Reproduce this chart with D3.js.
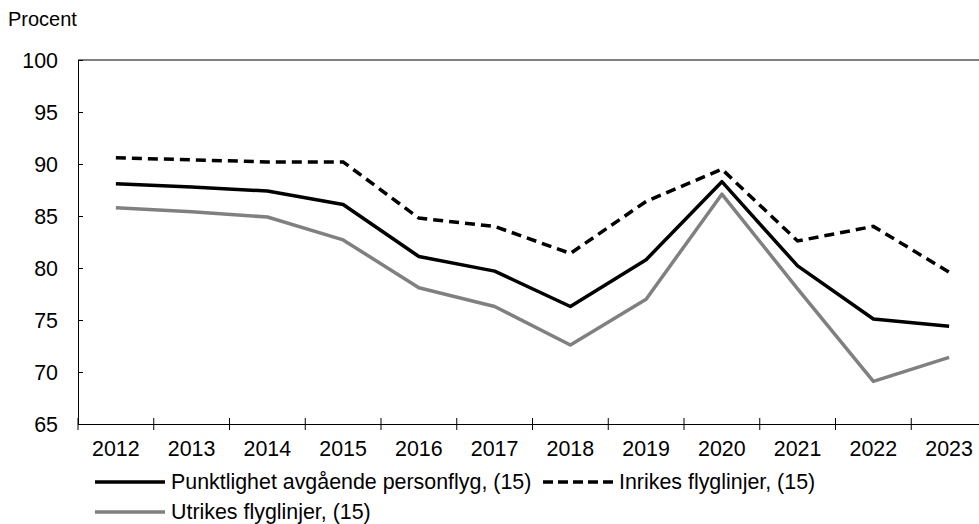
<!DOCTYPE html>
<html><head><meta charset="utf-8">
<script src="https://cdn.jsdelivr.net/npm/d3@7"></script>
<style>body{margin:0;background:#fff}text{font-family:"Liberation Sans",Arial,sans-serif;fill:#000}</style>
</head><body><svg id="c" width="979" height="524"></svg>
<script>
const years = ["2012","2013","2014","2015","2016","2017","2018","2019","2020","2021","2022","2023"];
const punktlighet = [88.1,87.8,87.4,86.1,81.1,79.7,76.3,80.8,88.3,80.2,75.1,74.4];
const inrikes = [90.6,90.4,90.2,90.2,84.8,84.0,81.4,86.4,89.5,82.6,84.0,79.6];
const utrikes = [85.8,85.4,84.9,82.7,78.1,76.3,72.6,77.0,87.1,78.0,69.1,71.4];
const yTicks = [65,70,75,80,85,90,95,100];
const seriesNames = ["Punktlighet avgående personflyg, (15)","Inrikes flyglinjer, (15)","Utrikes flyglinjer, (15)"];

const svg = d3.select("#c");
const L = 78, R = 987, T = 60, B = 424;
const FS = 21.4;
const x = d3.scaleBand().domain(years).range([L, R]);
const y = d3.scaleLinear().domain([65,100]).range([B, T]);

svg.append("line").attr("x1",L).attr("x2",R).attr("y1",T).attr("y2",T).attr("stroke","#000").attr("stroke-width",1);

const ya = svg.append("g").attr("transform",`translate(${L},0)`)
  .call(d3.axisRight(y).tickValues(yTicks).tickSize(5).tickFormat(d3.format("d")));
ya.select(".domain").attr("stroke","#000");
ya.selectAll(".tick line").attr("stroke","#000");
ya.selectAll(".tick text").attr("x",-20).attr("text-anchor","end").attr("font-size",FS).attr("dy","0.35em").style("font-family","Liberation Sans, Arial, sans-serif");

const xa = svg.append("g").attr("transform",`translate(0,${B})`)
  .call(d3.axisBottom(x).tickSize(0).tickSizeOuter(0));
xa.select(".domain").attr("stroke","#000");
xa.selectAll(".tick text").attr("y",25).attr("dy","0.35em").attr("font-size",FS).style("font-family","Liberation Sans, Arial, sans-serif");
const bounds = years.map(d => x(d));
svg.append("g").selectAll("line").data(bounds).join("line")
  .attr("x1",d=>d).attr("x2",d=>d).attr("y1",B-6).attr("y2",B+6).attr("stroke","#000").attr("stroke-width",1);

const line = d3.line().x((d,i)=>x(years[i])+x.bandwidth()/2).y(d=>y(d));
svg.append("path").datum(utrikes).attr("d",line).attr("fill","none").attr("stroke","#808080").attr("stroke-width",3.5).attr("stroke-linejoin","round");
svg.append("path").datum(punktlighet).attr("d",line).attr("fill","none").attr("stroke","#000").attr("stroke-width",3.5).attr("stroke-linejoin","round");
svg.append("path").datum(inrikes).attr("d",line).attr("fill","none").attr("stroke","#000").attr("stroke-width",3.5).attr("stroke-dasharray","10,6");

svg.append("text").attr("x",8).attr("y",26).attr("font-size",20).text("Procent");

const leg = [
  {name:seriesNames[0], x:95, y:482, color:"#000", dash:null},
  {name:seriesNames[1], x:543, y:482, color:"#000", dash:"10,5"},
  {name:seriesNames[2], x:95, y:512, color:"#808080", dash:null}
];
const lg = svg.append("g").selectAll("g").data(leg).join("g");
lg.append("line").attr("x1",d=>d.x).attr("x2",d=>d.x+70).attr("y1",d=>d.y).attr("y2",d=>d.y)
  .attr("stroke",d=>d.color).attr("stroke-width",3.5).attr("stroke-dasharray",d=>d.dash);
lg.append("text").attr("x",d=>d.x+76).attr("y",d=>d.y).attr("dy","0.35em").attr("font-size",FS).text(d=>d.name);
</script></body></html>
